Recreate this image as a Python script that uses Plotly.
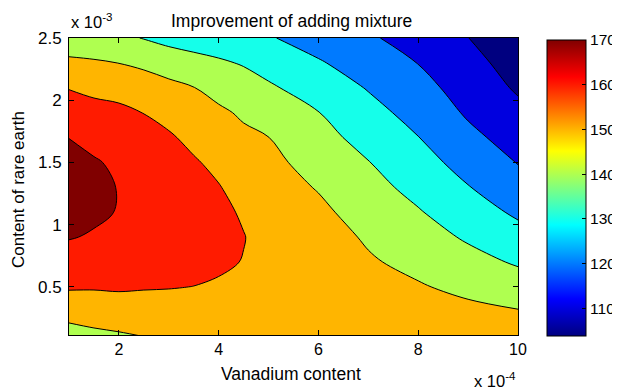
import numpy as np
import plotly.graph_objects as go

# ---- data ----
x_vals = [1, 1.5, 2, 2.5, 3, 3.5, 4, 4.5, 5, 6, 7, 8, 9, 10]          # x 1e-4
y_vals = [0.1, 0.3, 0.5, 0.7, 0.9, 1.1, 1.3, 1.5, 1.7, 1.9, 2.1, 2.3, 2.5]  # x 1e-3

# estimated values, one list per x column (bottom -> top)
z_x1   = [145.6, 153.6, 161.0, 165.9, 170.5, 172.7, 173.3, 172.3, 169.9, 164.9, 159.6, 151.9, 144.2]
z_x1_5 = [147.6, 154.5, 160.8, 165.0, 169.2, 171.5, 172.0, 170.8, 167.4, 163.0, 157.9, 151.0, 144.0]
z_x2   = [148.8, 155.0, 161.2, 165.3, 168.1, 169.6, 169.7, 168.5, 166.0, 162.2, 156.5, 149.9, 142.0]
z_x2_5 = [150.0, 155.3, 160.7, 164.4, 166.8, 168.0, 167.9, 166.5, 163.8, 159.8, 154.3, 148.3, 139.6]
z_x3   = [151.0, 155.7, 160.4, 163.8, 165.8, 166.6, 166.1, 164.3, 161.2, 156.9, 152.4, 145.7, 137.0]
z_x3_5 = [152.0, 156.0, 159.9, 162.8, 164.2, 164.4, 163.3, 161.0, 157.5, 153.8, 150.2, 143.0, 136.0]
z_x4   = [152.5, 155.7, 159.0, 161.4, 162.4, 162.1, 160.5, 157.6, 154.5, 151.5, 147.1, 141.2, 135.0]
z_x4_5 = [153.0, 156.0, 158.3, 159.7, 160.3, 159.0, 156.3, 154.0, 151.7, 148.8, 144.0, 139.3, 133.5]
z_x5   = [153.3, 155.2, 156.5, 157.0, 156.8, 155.8, 154.2, 152.3, 150.1, 145.7, 141.3, 136.4, 130.8]
z_x6   = [154.5, 155.5, 155.8, 155.3, 154.0, 152.0, 149.4, 146.5, 143.2, 140.2, 135.6, 130.9, 125.8]
z_x7   = [154.5, 154.0, 153.0, 151.0, 148.9, 146.0, 143.1, 140.3, 136.7, 133.1, 129.4, 125.3, 121.2]
z_x8   = [155.3, 153.6, 150.8, 147.5, 144.1, 140.7, 137.2, 133.7, 130.2, 126.7, 123.3, 119.8, 116.2]
z_x9   = [155.8, 152.3, 147.7, 143.2, 138.8, 134.6, 130.4, 126.4, 122.4, 118.8, 115.9, 113.0, 110.1]
z_x10  = [156.0, 150.6, 144.7, 138.9, 133.5, 128.4, 124.0, 119.6, 116.0, 112.4, 108.8, 106.2, 103.8]

levels = [110, 120, 130, 140, 150, 160, 170]
cbar_ticks = [110, 120, 130, 140, 150, 160, 170]
x_ticks = [2, 4, 6, 8, 10]
y_ticks = [0.5, 1, 1.5, 2, 2.5]
y_ticktext = ["0.5", "1", "1.5", "2", "2.5"]

title_text = "Improvement of adding mixture"
x_title = "Vanadium content"
y_title = "Content of rare earth"

z_columns = [z_x1, z_x1_5, z_x2, z_x2_5, z_x3, z_x3_5, z_x4, z_x4_5,
             z_x5, z_x6, z_x7, z_x8, z_x9, z_x10]
z = np.array(z_columns).T  # rows = y, cols = x

cmin = float(z.min())
cmax = float(levels[-1])

# ---- MATLAB jet colormap ----
JET = [(0.0, (0, 0, 0.5)), (0.125, (0, 0, 1)), (0.375, (0, 1, 1)),
       (0.625, (1, 1, 0)), (0.875, (1, 0, 0)), (1.0, (0.5, 0, 0))]


def jet(s):
    s = min(max(s, 0.0), 1.0)
    for (s0, c0), (s1, c1) in zip(JET[:-1], JET[1:]):
        if s <= s1:
            t = (s - s0) / (s1 - s0) if s1 > s0 else 0
            c = [c0[i] + t * (c1[i] - c0[i]) for i in range(3)]
            return "rgb(%d,%d,%d)" % tuple(round(v * 255) for v in c)
    return "rgb(128,0,0)"


jet_scale = [[s, "rgb(%d,%d,%d)" % tuple(round(v * 255) for v in c)] for s, c in JET]

# band colours: background gets colour of the data minimum, each band the colour of its lower level
band_vals = [cmin] + levels
nc = len(levels)
band_scale = [[k / nc, jet((v - cmin) / (cmax - cmin))] for k, v in enumerate(band_vals)]

FONT = "Liberation Sans, Arial, sans-serif"

# the page body adds an 8px offset; the figure is sized/placed to compensate
OFF = 8
W, H = 620 - OFF, 390 - OFF
PL, PR, PT, PB = 69, 518, 38, 335          # plot box in window pixels
PW, PH = PR - PL, PB - PT


def px(xw):
    return (xw - PL) / PW


def py(yw):
    return (PB - yw) / PH


fig = go.Figure()
fig.add_trace(go.Contour(
    x=x_vals, y=y_vals, z=z,
    autocontour=False,
    contours=dict(start=levels[0], end=levels[-1], size=levels[1] - levels[0],
                  coloring="fill", showlines=True),
    line=dict(color="black", width=1, smoothing=1),
    colorscale=band_scale,
    showscale=False,
    hoverinfo="skip",
))

# continuous jet colorbar
fig.add_trace(go.Scatter(
    x=[None], y=[None], mode="markers",
    marker=dict(color=[cmin], colorscale=jet_scale, cmin=cmin, cmax=cmax, showscale=True,
                colorbar=dict(
                    x=px(547), xanchor="left", xpad=0,
                    y=py(188), yanchor="middle", ypad=0,
                    lenmode="pixels", len=296,
                    thicknessmode="pixels", thickness=39,
                    outlinewidth=1, outlinecolor="black",
                    tickvals=cbar_ticks, ticks="inside", ticklen=4, tickcolor="black",
                    tickfont=dict(family=FONT, size=15.5, color="black"),
                )),
    showlegend=False, hoverinfo="skip",
))

axis_common = dict(showline=True, linecolor="black", linewidth=1, mirror="ticks",
                   ticks="inside", ticklen=5, tickcolor="black", showgrid=False,
                   zeroline=False)

fig.update_layout(
    width=W, height=H,
    margin=dict(l=PL - OFF, r=W - (PR - OFF), t=PT - OFF, b=H - (PB - OFF), autoexpand=False),
    paper_bgcolor="white", plot_bgcolor="white",
    showlegend=False,
    xaxis=dict(range=[1, 10], tickvals=x_ticks,
               tickfont=dict(family=FONT, size=16, color="black"), **axis_common),
    yaxis=dict(range=[0.113, 2.5], tickvals=y_ticks, ticktext=y_ticktext, ticklabelstandoff=3,
               tickfont=dict(family=FONT, size=17, color="black"), **axis_common),
    font=dict(family=FONT, size=16, color="black"),
)

annotations = [
    dict(text=title_text, x=px(291), y=py(21), xref="paper", yref="paper",
         xanchor="center", yanchor="middle", showarrow=False,
         font=dict(family=FONT, size=17.5, color="black")),
    dict(text=x_title, x=px(290.5), y=py(374), xref="paper", yref="paper",
         xanchor="center", yanchor="middle", showarrow=False,
         font=dict(family=FONT, size=17.5, color="black")),
    dict(text=y_title, x=px(18), y=py(190), xref="paper", yref="paper",
         xanchor="center", yanchor="middle", textangle=-90, showarrow=False,
         font=dict(family=FONT, size=17, color="black")),
    dict(text="x 10<sup>-3</sup>", x=0, y=py(21), xref="paper", yref="paper",
         xanchor="left", yanchor="middle", showarrow=False,
         font=dict(family=FONT, size=16.5, color="black")),
    dict(text="x 10<sup>-4</sup>", x=px(518), y=py(380), xref="paper", yref="paper",
         xanchor="right", yanchor="middle", showarrow=False,
         font=dict(family=FONT, size=16.5, color="black")),
]
fig.update_layout(annotations=annotations)

fig.write_html("out.html")
